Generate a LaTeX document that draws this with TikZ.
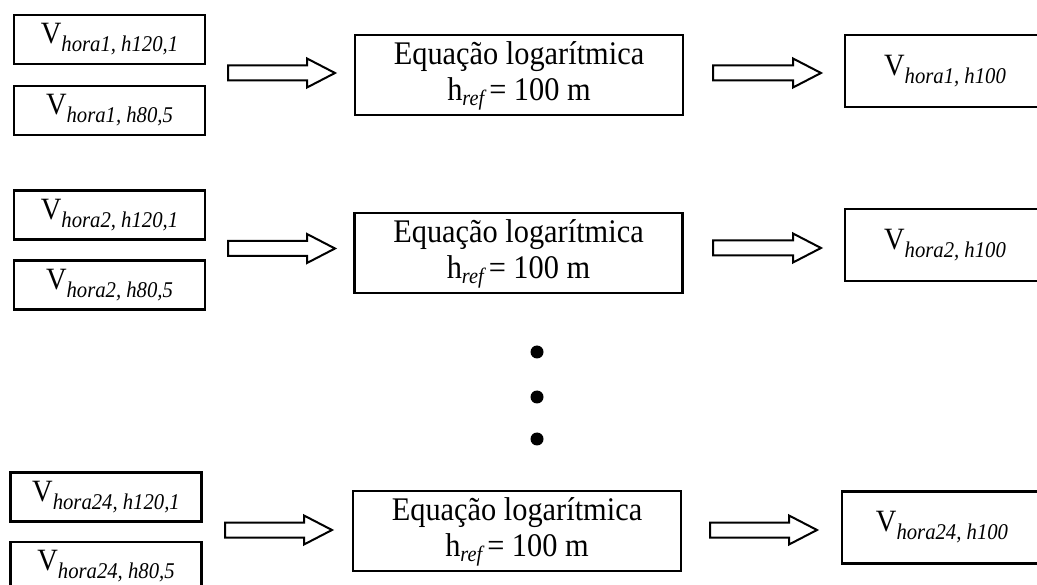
\documentclass[tikz,border=0pt]{standalone}
\usepackage{fontspec}
\setmainfont{Liberation Serif}
\usetikzlibrary{calc}
\tikzset{
  inbox/.style={draw=black, line width=2.6pt, rectangle, minimum width=191pt, minimum height=49pt, inner sep=0pt},
  eqbox/.style={draw=black, line width=2.6pt, rectangle, minimum width=328pt, minimum height=80pt, inner sep=0pt},
  outbox/.style={draw=black, line width=2.6pt, rectangle, minimum width=200pt, minimum height=72pt, inner sep=0pt},
  fatline/.style={draw=black, line width=2pt, fill=white, line join=miter},
  dotmark/.style={fill=black, circle, inner sep=0pt, minimum size=13pt}
}
\newcommand{\vlab}[1]{\scalebox{0.92}[1]{{\fontsize{31}{33}\selectfont V}\raisebox{-8pt}{\fontsize{22.5}{24}\selectfont\itshape #1}}}
\newcommand{\eqtext}{\scalebox{0.92}[1]{\fontsize{33}{37}\selectfont\begin{tabular}{@{}c@{}}Equação logarítmica\\[-1pt]h\raisebox{-5pt}{\fontsize{22}{24}\selectfont\itshape ref}\,= 100 m\end{tabular}}}
\newcommand{\fatarrow}[2]{%
  \draw[fatline] ($(#1)+(0,-7.5)$) -- ($(#2)+(-28,-7.5)$) -- ($(#2)+(-28,-14.5)$) -- (#2)
    -- ($(#2)+(-28,14.5)$) -- ($(#2)+(-28,7.5)$) -- ($(#1)+(0,7.5)$) -- cycle;}
\begin{document}
\begin{tikzpicture}[x=1pt,y=-1pt]
\useasboundingbox (0,0) rectangle (1037,585);
\clip (0,0) rectangle (1037,585);
\fill[white] (0,0) rectangle (1037,585);
% row 1
\node[inbox] (in1a) at (109.5,39.5) {\vlab{hora1, h120,1}};
\node[inbox] (in1b) at (109.5,110.5) {\vlab{hora1, h80,5}};
\node[eqbox] (eq1) at (519,75) {\eqtext};
\node[outbox] (out1) at (945,71) {\vlab{hora1, h100}};
\coordinate (a1s) at (228,73);
\coordinate (a1e) at (335,73);
\coordinate (b1s) at (713,73);
\coordinate (b1e) at (821,73);
\fatarrow{a1s}{a1e}
\fatarrow{b1s}{b1e}
% row 2
\node[inbox] (in2a) at (109.5,215) {\vlab{hora2, h120,1}};
\node[inbox] (in2b) at (109.5,285) {\vlab{hora2, h80,5}};
\node[eqbox] (eq2) at (518.5,253) {\eqtext};
\node[outbox] (out2) at (945,245) {\vlab{hora2, h100}};
\coordinate (a2s) at (228,248.5);
\coordinate (a2e) at (335,248.5);
\coordinate (b2s) at (713,248);
\coordinate (b2e) at (821,248);
\fatarrow{a2s}{a2e}
\fatarrow{b2s}{b2e}
% dots
\node[dotmark] (d1) at (537,352) {};
\node[dotmark] (d2) at (537,397) {};
\node[dotmark] (d3) at (537,439) {};
% row 3
\node[inbox] (in3a) at (106,497) {\vlab{hora24, h120,1}};
\node[inbox] (in3b) at (106,566.5) {\vlab{hora24, h80,5}};
\node[eqbox] (eq3) at (517,531) {\eqtext};
\node[outbox] (out3) at (942,527.5) {\vlab{hora24, h100}};
\coordinate (a3s) at (225,530);
\coordinate (a3e) at (332,530);
\coordinate (b3s) at (710,530);
\coordinate (b3e) at (817,530);
\fatarrow{a3s}{a3e}
\fatarrow{b3s}{b3e}
\end{tikzpicture}
\end{document}
